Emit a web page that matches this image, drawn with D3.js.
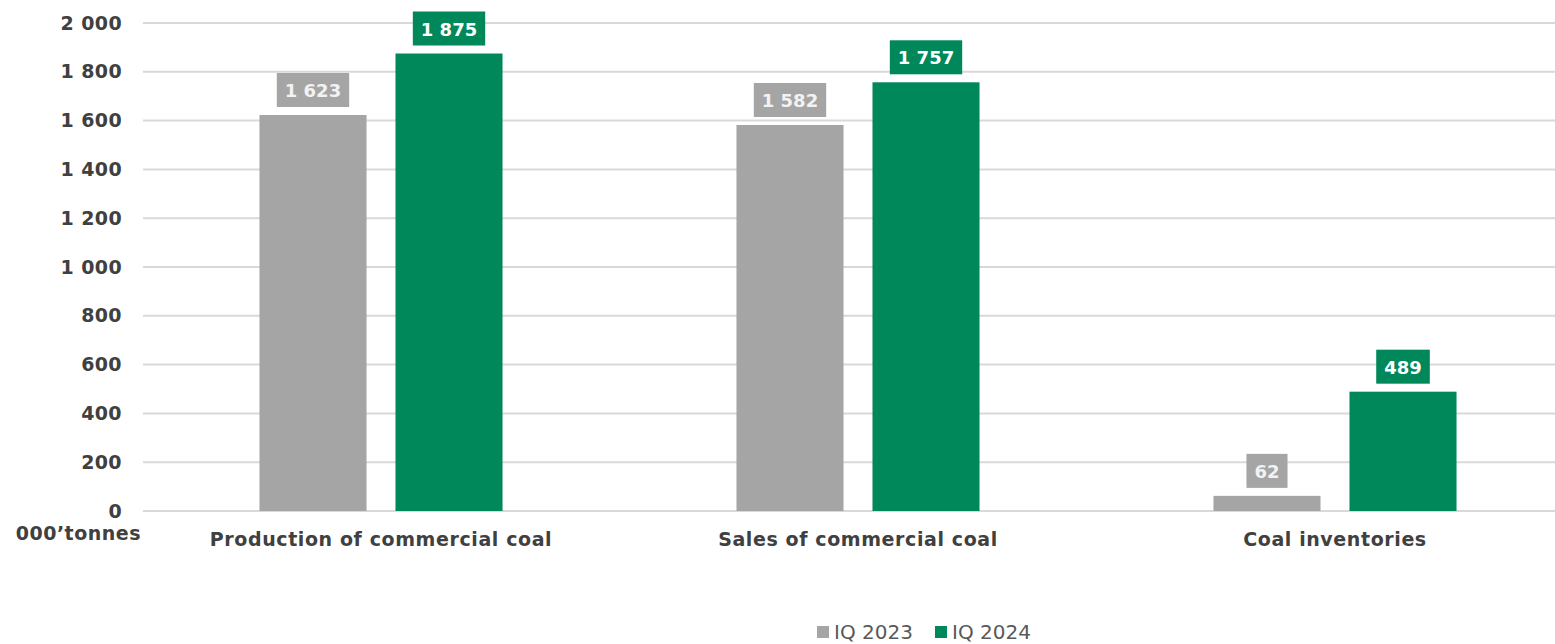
<!DOCTYPE html>
<html>
<head>
<meta charset="utf-8">
<script src="https://cdn.jsdelivr.net/npm/d3@7"></script>
<style>
  body { margin: 0; background: #fff; }
  svg { display: block; font-family: "DejaVu Sans", sans-serif; }
</style>
</head>
<body>
<svg id="chart"></svg>
<script>
// Data
var categories = ["Production of commercial coal", "Sales of commercial coal", "Coal inventories"];
var seriesNames = ["IQ 2023", "IQ 2024"];
var values2023 = [1623, 1582, 62];
var values2024 = [1875, 1757, 489];
var yTicks = [0, 200, 400, 600, 800, 1000, 1200, 1400, 1600, 1800, 2000];

var svgWidth = 1555, svgHeight = 644;
var colors = { "IQ 2023": "#a5a5a5", "IQ 2024": "#00885a" };

var svg = d3.select('#chart')
    .attr('width', svgWidth)
    .attr('height', svgHeight);

var fmt = d => d3.format(",")(d).replace(/,/g, " ");

// Scales
var xScale = d3.scaleBand()
    .domain(categories)
    .range([142.5, 1573.5]);

var yScale = d3.scaleLinear()
    .domain([0, 2000])
    .range([511, 23]);

var xInner = d3.scaleBand()
    .domain(seriesNames)
    .range([0, xScale.bandwidth()])
    .paddingInner(0.213)
    .paddingOuter(0.86);

// Gridlines
svg.append('g')
    .selectAll('line')
    .data(yTicks)
    .enter()
    .append('line')
    .attr('x1', 143)
    .attr('x2', svgWidth)
    .attr('y1', d => yScale(d))
    .attr('y2', d => yScale(d))
    .attr('stroke', '#d9d9d9')
    .attr('stroke-width', 2);

// Y axis
var yAxis = svg.append('g')
    .attr('transform', 'translate(122,0)')
    .call(d3.axisLeft(yScale).tickValues(yTicks).tickFormat(fmt).tickSize(0).tickPadding(0));
yAxis.select('.domain').remove();
yAxis.selectAll('text')
    .attr('font-size', '19px')
    .attr('font-weight', 'bold')
    .attr('letter-spacing', '0.4px')
    .attr('fill', '#404040')
    .attr('font-family', '"DejaVu Sans", sans-serif');

svg.append('text')
    .attr('x', 141)
    .attr('y', 540)
    .attr('text-anchor', 'end')
    .attr('font-size', '19px')
    .attr('font-weight', 'bold')
    .attr('letter-spacing', '0.5px')
    .attr('fill', '#404040')
    .text("000’tonnes");

// Bars
var rows = [];
categories.forEach((c, i) => {
    rows.push({ cat: c, series: "IQ 2023", value: values2023[i] });
    rows.push({ cat: c, series: "IQ 2024", value: values2024[i] });
});

svg.selectAll('.bar')
    .data(rows)
    .enter()
    .append('rect')
    .attr('class', 'bar')
    .attr('x', d => xScale(d.cat) + xInner(d.series))
    .attr('y', d => yScale(d.value))
    .attr('width', xInner.bandwidth())
    .attr('height', d => yScale(0) - yScale(d.value))
    .attr('fill', d => colors[d.series]);

// Value labels with boxes
var labels = svg.selectAll('.bar-label')
    .data(rows)
    .enter()
    .append('g')
    .attr('class', 'bar-label');

labels.each(function(d) {
    var g = d3.select(this);
    var cx = xScale(d.cat) + xInner(d.series) + xInner.bandwidth() / 2;
    var bottom = yScale(d.value) - 8;
    var t = g.append('text')
        .attr('x', cx)
        .attr('y', bottom - 10)
        .attr('text-anchor', 'middle')
        .attr('font-size', '18px')
        .attr('font-weight', 'bold')
        .attr('fill', d.series === "IQ 2024" ? '#ffffff' : '#f2f2f2')
        .text(fmt(d.value));
    var w = t.node().getComputedTextLength() + 16;
    g.insert('rect', 'text')
        .attr('x', cx - w / 2)
        .attr('y', bottom - 34)
        .attr('width', w)
        .attr('height', 34)
        .attr('fill', colors[d.series]);
});

// Category labels
svg.selectAll('.cat-label')
    .data(categories)
    .enter()
    .append('text')
    .attr('class', 'cat-label')
    .attr('x', d => xScale(d) + xScale.bandwidth() / 2)
    .attr('y', 546)
    .attr('text-anchor', 'middle')
    .attr('font-size', '19px')
    .attr('font-weight', 'bold')
    .attr('letter-spacing', '0.6px')
    .attr('fill', '#404040')
    .text(d => d);

// Legend
var legendX = [817, 935];
var legend = svg.selectAll('.legend')
    .data(seriesNames)
    .enter()
    .append('g')
    .attr('class', 'legend')
    .attr('transform', (d, i) => 'translate(' + legendX[i] + ',626)');
legend.append('rect')
    .attr('width', 12)
    .attr('height', 12)
    .attr('fill', d => colors[d]);
legend.append('text')
    .attr('x', 17)
    .attr('y', 13)
    .attr('font-size', '20px')
    .attr('fill', '#595959')
    .text(d => d);
</script>
</body>
</html>
